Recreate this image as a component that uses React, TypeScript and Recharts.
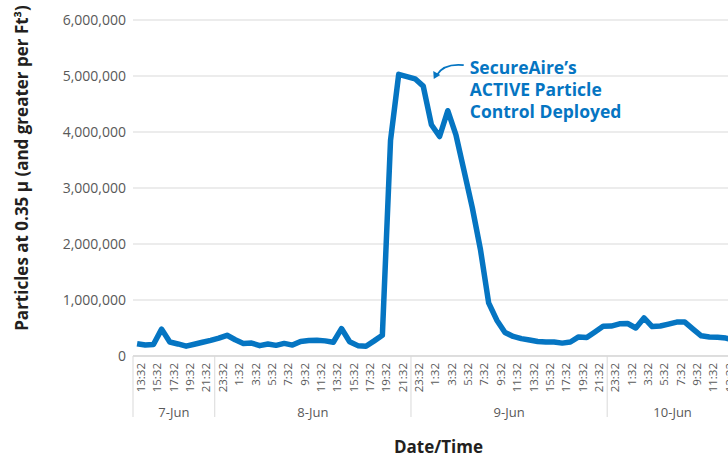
import React from 'react';
import { LineChart, Line, XAxis, YAxis, CartesianGrid, ReferenceDot } from 'recharts';

// hourly readings, 7-Jun 13:32 through 10-Jun 14:32
const TIME_LABELS = [
  '13:32', '14:32', '15:32', '16:32', '17:32', '18:32', '19:32', '20:32', '21:32', '22:32',
  '23:32', '0:32', '1:32', '2:32', '3:32', '4:32', '5:32', '6:32', '7:32', '8:32', '9:32', '10:32',
  '11:32', '12:32', '13:32', '14:32', '15:32', '16:32', '17:32', '18:32', '19:32', '20:32', '21:32', '22:32',
  '23:32', '0:32', '1:32', '2:32', '3:32', '4:32', '5:32', '6:32', '7:32', '8:32', '9:32', '10:32',
  '11:32', '12:32', '13:32', '14:32', '15:32', '16:32', '17:32', '18:32', '19:32', '20:32', '21:32', '22:32',
  '23:32', '0:32', '1:32', '2:32', '3:32', '4:32', '5:32', '6:32', '7:32', '8:32', '9:32', '10:32',
  '11:32', '12:32', '13:32', '14:32',
];

const PARTICLES = [
  220000, 195000, 205000, 480000, 250000, 215000, 175000, 210000, 245000, 280000,
  320000, 370000, 290000, 225000, 230000, 185000, 215000, 190000, 225000, 195000, 260000, 275000,
  280000, 270000, 245000, 490000, 255000, 185000, 175000, 270000, 370000, 3850000, 5030000, 4990000,
  4950000, 4820000, 4130000, 3920000, 4380000, 3950000, 3300000, 2650000, 1900000, 950000, 640000, 420000,
  350000, 310000, 285000, 260000, 250000, 250000, 230000, 250000, 340000, 330000, 430000, 530000,
  535000, 575000, 580000, 500000, 680000, 525000, 535000, 570000, 605000, 605000, 480000, 360000,
  340000, 335000, 320000, 280000,
];

const DAYS = ['7-Jun', '8-Jun', '9-Jun', '10-Jun'];
const DAY_LENGTHS = [10, 24, 24, 16];

const Y_TICKS = [0, 1000000, 2000000, 3000000, 4000000, 5000000, 6000000];

const BLUE = '#0575c2';
const GRID = '#d9d9d9';
const TEXT = '#595959';
const FONT = '"Open Sans", sans-serif';

const data = TIME_LABELS.map((time, i) => ({ hour: i, time, particles: PARTICLES[i] }));

// day group edges and centres, in hour units
const dayEdges: number[] = [];
const dayCenters: number[] = [];
let acc = 0;
DAY_LENGTHS.forEach((len) => {
  dayEdges.push(acc - 0.5);
  dayCenters.push(acc - 0.5 + len / 2);
  acc += len;
});
dayEdges.push(acc - 0.5);

const timeTicks = TIME_LABELS.map((_, i) => i).filter((i) => i % 2 === 0);
const allTicks = [...dayEdges, ...dayCenters, ...timeTicks].sort((a, b) => a - b);

const XTick = (props: any) => {
  const { x, y, payload } = props;
  const v = payload.value;
  const edge = dayEdges.indexOf(v);
  if (edge >= 0) {
    return <line x1={x} y1={y} x2={x} y2={y + 61} stroke={GRID} strokeWidth={1} />;
  }
  const day = dayCenters.indexOf(v);
  if (day >= 0) {
    return (
      <text x={x} y={y + 61} textAnchor="middle" fill={TEXT} fontSize={13} fontFamily={FONT}>
        {DAYS[day]}
      </text>
    );
  }
  const tx = x + 8;
  const ty = y + 7;
  return (
    <text x={tx} y={ty} transform={`rotate(-90 ${tx} ${ty})`} textAnchor="end" fill={TEXT} fontSize={11.5} fontFamily={FONT}>
      {TIME_LABELS[v]}
    </text>
  );
};

const YTitle = (props: any) => {
  const { viewBox } = props;
  const cx = viewBox.x + 28;
  const cy = 168;
  return (
    <text x={cx} y={cy} transform={`rotate(-90 ${cx} ${cy})`} textAnchor="middle" fill="#231f20" fontSize={17} fontWeight={700} fontFamily={FONT}>
      Particles at 0.35 µ (and greater per Ft³)
    </text>
  );
};

const XTitle = (props: any) => {
  const { viewBox } = props;
  return (
    <text x={viewBox.x + viewBox.width / 2 + 3} y={viewBox.y + 97} textAnchor="middle" fill="#231f20" fontSize={17} fontWeight={700} fontFamily={FONT}>
      Date/Time
    </text>
  );
};

const Annotation = (props: any) => {
  const { cx, cy } = props;
  const tipX = cx + 10.5;
  const tipY = cy - 7;
  const tx = cx + 46.5;
  const ty = cy - 12.5;
  return (
    <g>
      <path d={`M ${tx - 6} ${tipY - 14} Q ${tipX + 10} ${tipY - 16} ${tipX + 3} ${tipY - 4}`} fill="none" stroke={BLUE} strokeWidth={1.8} />
      <path d={`M ${tipX} ${tipY} L ${tipX - 0.5} ${tipY - 8} L ${tipX + 6.5} ${tipY - 4} Z`} fill={BLUE} />
      <text x={tx} y={ty} fill={BLUE} fontSize={17.5} fontWeight={700} fontFamily={FONT}>
        <tspan x={tx} dy={0}>SecureAire’s</tspan>
        <tspan x={tx} dy={22.3}>ACTIVE Particle</tspan>
        <tspan x={tx} dy={22.3}>Control Deployed</tspan>
      </text>
    </g>
  );
};

export default function App() {
  return (
    <div style={{ position: 'absolute', left: 0, top: 0, width: 728, height: 460, overflow: 'hidden', background: '#fff' }}>
      <LineChart width={738} height={460} data={data} margin={{ top: 20, right: 0, bottom: 0, left: 0 }}>
        <CartesianGrid vertical={false} stroke={GRID} />
        <XAxis
          dataKey="hour"
          type="number"
          domain={[-0.5, TIME_LABELS.length - 0.5]}
          ticks={allTicks}
          interval={0}
          height={104}
          tickSize={0}
          tickMargin={0}
          axisLine={{ stroke: '#cfcfcf' }}
          tickLine={false}
          tick={<XTick />}
          label={<XTitle />}
        />
        <YAxis
          width={133}
          domain={[0, 6000000]}
          ticks={Y_TICKS}
          axisLine={false}
          tickLine={false}
          tickSize={0}
          tickMargin={7}
          tickFormatter={(v: number) => v.toLocaleString('en-US')}
          tick={{ fill: TEXT, fontSize: 14, fontFamily: FONT }}
          label={<YTitle />}
        />
        <Line
          type="linear"
          dataKey="particles"
          stroke={BLUE}
          strokeWidth={5.5}
          strokeLinejoin="round"
          dot={false}
          isAnimationActive={false}
        />
        <ReferenceDot x={35} y={PARTICLES[35]} r={0} ifOverflow="visible" shape={<Annotation />} />
      </LineChart>
    </div>
  );
}
